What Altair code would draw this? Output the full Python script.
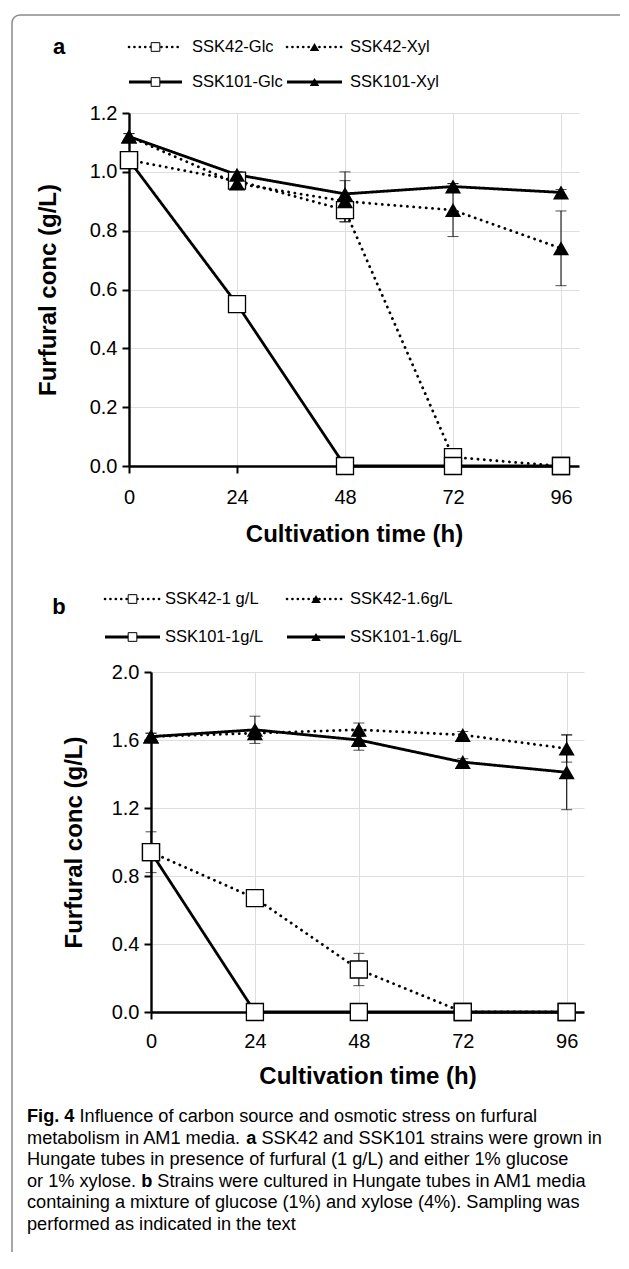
import altair as alt
import pandas as pd

# ---------------- data ----------------
time_h = [0, 24, 48, 72, 96]

# panel a : furfural 1 g/L, glucose or xylose
a_labels = ["SSK42-Glc", "SSK42-Xyl", "SSK101-Glc", "SSK101-Xyl"]
a_ssk42_glc = [1.04, 0.97, 0.87, 0.03, 0.00]
a_ssk42_glc_err = [0.00, 0.01, 0.04, 0.00, 0.00]
a_ssk42_xyl = [1.12, 0.96, 0.90, 0.87, 0.74]
a_ssk42_xyl_err = [0.01, 0.02, 0.07, 0.09, 0.127]
a_ssk101_glc = [1.04, 0.55, 0.00, 0.00, 0.00]
a_ssk101_glc_err = [0.00, 0.00, 0.00, 0.00, 0.00]
a_ssk101_xyl = [1.12, 0.99, 0.925, 0.95, 0.93]
a_ssk101_xyl_err = [0.01, 0.01, 0.075, 0.01, 0.01]

# panel b : glucose + xylose mixture, 1 or 1.6 g/L furfural
b_labels = ["SSK42-1 g/L", "SSK42-1.6g/L", "SSK101-1g/L", "SSK101-1.6g/L"]
b_ssk42_1 = [0.94, 0.67, 0.25, 0.00, 0.00]
b_ssk42_1_err = [0.12, 0.00, 0.095, 0.00, 0.00]
b_ssk42_16 = [1.62, 1.64, 1.66, 1.63, 1.55]
b_ssk42_16_err = [0.02, 0.02, 0.04, 0.02, 0.08]
b_ssk101_1 = [0.94, 0.00, 0.00, 0.00, 0.00]
b_ssk101_1_err = [0.00, 0.00, 0.00, 0.00, 0.00]
b_ssk101_16 = [1.62, 1.66, 1.60, 1.47, 1.41]
b_ssk101_16_err = [0.02, 0.08, 0.06, 0.02, 0.22]

x_ticks = [0, 24, 48, 72, 96]
a_y_ticks = [0.0, 0.2, 0.4, 0.6, 0.8, 1.0, 1.2]
b_y_ticks = [0.0, 0.4, 0.8, 1.2, 1.6, 2.0]

x_title = "Cultivation time (h)"
y_title = "Furfural conc (g/L)"

caption_lines = [
    [("Fig. 4", True), ("Influence of carbon source and osmotic stress on furfural", False)],
    [("metabolism in AM1 media.", False), ("a", True), ("SSK42 and SSK101 strains were grown in", False)],
    [("Hungate tubes in presence of furfural (1 g/L) and either 1% glucose", False)],
    [("or 1% xylose.", False), ("b", True), ("Strains were cultured in Hungate tubes in AM1 media", False)],
    [("containing a mixture of glucose (1%) and xylose (4%). Sampling was", False)],
    [("performed as indicated in the text", False)],
]

# ---------------- styles / layout ----------------
FONT = "Liberation Sans"
SERIES_DASH = ["dot", "dot", "solid", "solid"]
SERIES_MARKER = ["square", "triangle", "square", "triangle"]
DOT = [0.1, 6.2]
GRID = "#dedede"
FRAME = "#8a8a8a"

# page coordinates of the plot areas
A_X0, A_Y0, A_W, A_H = 127, 111, 450, 353
B_X0, B_Y0, B_W, B_H = 149, 670, 433, 340
CELL_X0 = A_X0
B_SHIFT = B_X0 - CELL_X0
SPACING = B_Y0 - (A_Y0 + A_H)

# Arial / Liberation Sans advance widths (1/1000 em) used to lay out the caption
_REG = {" ": 278, ".": 278, ",": 278, "(": 333, ")": 333, "%": 889, "/": 278, "-": 333}
for _c in "0123456789":
    _REG[_c] = 556
_REG.update(dict(zip("abcdefghijklmnopqrstuvwxyz",
                     [556, 556, 500, 556, 556, 278, 556, 556, 222, 222, 500, 222, 833,
                      556, 556, 556, 556, 333, 500, 278, 556, 500, 722, 500, 500, 500])))
_REG.update(dict(zip("ABCDEFGHIJKLMNOPQRSTUVWXYZ",
                     [667, 667, 722, 722, 667, 611, 778, 722, 278, 500, 667, 556, 833,
                      722, 778, 667, 778, 722, 667, 611, 722, 667, 944, 667, 667, 611])))
_BOLD = {" ": 278, ".": 278, "4": 556, "F": 611, "i": 278, "g": 611, "a": 556, "b": 611}


def text_w(s, size, bold=False):
    tab = _BOLD if bold else _REG
    return sum(tab.get(ch, 556) for ch in s) * size / 1000.0


one = pd.DataFrame({"k": [0]})


def make_df(labels, values, errs):
    rows = []
    for i, (lab, vals, es) in enumerate(zip(labels, values, errs)):
        for t, v, e in zip(time_h, vals, es):
            rows.append(dict(t=t, v=v, lo=v - e, hi=v + e, err=e, series=lab,
                             dash=SERIES_DASH[i], marker=SERIES_MARKER[i]))
    return pd.DataFrame(rows)


df_a = make_df(a_labels,
               [a_ssk42_glc, a_ssk42_xyl, a_ssk101_glc, a_ssk101_xyl],
               [a_ssk42_glc_err, a_ssk42_xyl_err, a_ssk101_glc_err, a_ssk101_xyl_err])
df_b = make_df(b_labels,
               [b_ssk42_1, b_ssk42_16, b_ssk101_1, b_ssk101_16],
               [b_ssk42_1_err, b_ssk42_16_err, b_ssk101_1_err, b_ssk101_16_err])


def txt(s, x, y, size, weight="normal", font=FONT, align="left"):
    return alt.Chart(one).mark_text(
        text=s, font=font, fontSize=size, fontWeight=weight, align=align,
        baseline="middle", color="black"
    ).encode(x=alt.value(x), y=alt.value(y))


def hseg(x1, x2, y, width, color="black", dash=None):
    kw = dict(color=color, strokeWidth=width)
    if dash is not None:
        kw["strokeDash"] = dash
        kw["strokeCap"] = "round"
    return alt.Chart(one).mark_rule(**kw).encode(
        x=alt.value(x1), x2=alt.value(x2), y=alt.value(y))


def vseg(x, y1, y2, width, color="black"):
    return alt.Chart(one).mark_rule(color=color, strokeWidth=width).encode(
        x=alt.value(x), y=alt.value(y1), y2=alt.value(y2))


def sym(marker, x, y, size):
    if marker == "square":
        m = alt.Chart(one).mark_point(shape="square", size=size, filled=True, fill="white",
                                      stroke="black", strokeWidth=1, opacity=1)
    else:
        m = alt.Chart(one).mark_point(shape="triangle-up", size=size, filled=True,
                                      color="black", opacity=1)
    return m.encode(x=alt.value(x), y=alt.value(y))


def legend_layers(labels, rows_y, sym_x, text_x, cell_y0):
    out = []
    for i, lab in enumerate(labels):
        r, c = i // 2, i % 2
        y = rows_y[r] - cell_y0
        x1, x2 = sym_x[c][0] - CELL_X0, sym_x[c][1] - CELL_X0
        if SERIES_DASH[i] == "dot":
            out.append(hseg(x1, x2, y, 2.6, dash=[0.1, 5.3]))
        else:
            out.append(hseg(x1, x2, y, 2.8))
        out.append(sym(SERIES_MARKER[i], (x1 + x2) / 2, y, 75 if SERIES_MARKER[i] == "square" else 90))
        out.append(txt(lab, text_x[c] - CELL_X0, y, 16.5))
    return out


def build_panel(df, ymax, yticks, width, height, x_range, y_offset, ytitle_x,
                xtitle_y, xlabel_pad):
    x_scale = alt.Scale(domain=[0, 100], range=x_range, nice=False, zero=False)
    y_scale = alt.Scale(domain=[0, ymax], nice=False, zero=True)
    x_axis = alt.Axis(values=x_ticks, format="d", title=x_title,
                      labelFont=FONT, labelFontSize=20, labelColor="black",
                      labelPadding=xlabel_pad, labelFlush=False,
                      titleFont=FONT, titleFontSize=24, titleFontWeight="bold",
                      titleColor="black", titleBaseline="top", titleY=xtitle_y,
                      domainColor="black", domainWidth=2.6,
                      tickColor="black", tickWidth=2, tickSize=7,
                      grid=True, gridColor=GRID, gridWidth=1)
    y_axis = alt.Axis(values=yticks, format=".1f", title=y_title, offset=y_offset,
                      labelFont=FONT, labelFontSize=20, labelColor="black",
                      labelPadding=5,
                      titleFont=FONT, titleFontSize=24, titleFontWeight="bold",
                      titleColor="black", titleAngle=270, titleAlign="center",
                      titleBaseline="middle", titleX=ytitle_x, titleY=height / 2,
                      domainColor="black", domainWidth=2.4,
                      tickColor="black", tickWidth=2, tickSize=7,
                      grid=True, gridColor=GRID, gridWidth=1)
    X = alt.X("t:Q", scale=x_scale, axis=x_axis)

    base = alt.Chart(df)
    bars = base.transform_filter("datum.err > 0.005")
    err = bars.mark_rule(color="black", strokeWidth=1).encode(
        x=X, y=alt.Y("lo:Q", scale=y_scale, axis=y_axis), y2=alt.Y2("hi:Q"))
    cap_hi = bars.mark_tick(orient="horizontal", size=11, thickness=1, color="black").encode(
        x=X, y=alt.Y("hi:Q", scale=y_scale, axis=y_axis))
    cap_lo = bars.mark_tick(orient="horizontal", size=11, thickness=1, color="black").encode(
        x=X, y=alt.Y("lo:Q", scale=y_scale, axis=y_axis))
    Y = alt.Y("v:Q", scale=y_scale, axis=y_axis)
    lines = base.mark_line(color="black", strokeWidth=2.8, strokeCap="round").encode(
        x=X, y=Y, detail="series:N",
        strokeDash=alt.StrokeDash("dash:N", scale=alt.Scale(domain=["dot", "solid"],
                                                            range=[DOT, [1, 0]]),
                                  legend=None))
    squares = base.transform_filter("datum.marker == 'square'").mark_point(
        shape="square", size=290, filled=True, fill="white", stroke="black",
        strokeWidth=1.3, opacity=1).encode(x=X, y=Y)
    triangles = base.transform_filter("datum.marker == 'triangle'").mark_point(
        shape="triangle-up", size=260, filled=True, color="black", opacity=1).encode(x=X, y=Y)
    return [err, cap_hi, cap_lo, lines, squares, triangles]


# ---------------- panel a ----------------
layers_a = build_panel(df_a, 1.2, a_y_ticks, A_W, A_H, [0, A_W], 0,
                       46 - A_X0, 56, 14)
layers_a += legend_layers(a_labels, [45, 80], [(127, 180), (285, 340)], [190, 348], A_Y0)
layers_a.append(txt("a", 57 - CELL_X0, 45 - A_Y0, 22, weight="bold", align="center"))

# figure frame (rounded top-left corner)
FL, FT, FR, FB, RAD = 10, 13, 618, 1250, 8
layers_a.append(hseg(FL + RAD - CELL_X0, FR - CELL_X0, FT - A_Y0, 1.5, color=FRAME))
layers_a.append(vseg(FL - CELL_X0, FT + RAD - A_Y0, FB - A_Y0, 1.5, color=FRAME))
layers_a.append(alt.Chart(one).mark_arc(
    theta=4.712389, theta2=6.283185, radius=RAD, radius2=RAD,
    stroke=FRAME, strokeWidth=1.5, fillOpacity=0
).encode(x=alt.value(FL + RAD - CELL_X0), y=alt.value(FT + RAD - A_Y0)))

panel_a = alt.layer(*layers_a).properties(width=A_W, height=A_H)

# ---------------- panel b ----------------
layers_b = build_panel(df_b, 2.0, b_y_ticks, B_SHIFT + B_W, B_H, [B_SHIFT, B_SHIFT + B_W],
                       -B_SHIFT, 72 - B_X0, 52, 12)
layers_b += legend_layers(b_labels, [597, 635], [(103, 158), (285, 343)], [163, 348], B_Y0)
layers_b.append(txt("b", 57 - CELL_X0, 605 - B_Y0, 22, weight="bold", align="center"))

# caption: font size chosen so that the widest line spans the text block
CAP_X, CAP_Y0, CAP_DY, CAP_RIGHT = 25, 1115, 21.6, 600


def line_em(segs):
    total = 0.0
    for k, (s, bold) in enumerate(segs):
        total += text_w(s, 1.0, bold) + (text_w(" ", 1.0) if k else 0.0)
    return total


CAP_SIZE = (CAP_RIGHT - CAP_X) / line_em(caption_lines[1])
for li, segs in enumerate(caption_lines):
    x = CAP_X
    for s, bold in segs:
        layers_b.append(txt(s, x - CELL_X0, CAP_Y0 + li * CAP_DY - B_Y0, CAP_SIZE,
                            weight="bold" if bold else "normal"))
        x += text_w(s, CAP_SIZE, bold) + text_w(" ", CAP_SIZE)

panel_b = alt.layer(*layers_b).properties(width=B_SHIFT + B_W, height=B_H)

chart = alt.vconcat(
    panel_a, panel_b, spacing=SPACING, bounds="flush",
    padding={"left": 1, "top": 4, "right": 0, "bottom": 0}
).configure_view(strokeWidth=0)

chart.save("out.html", embed_options={"renderer": "svg", "actions": False})
